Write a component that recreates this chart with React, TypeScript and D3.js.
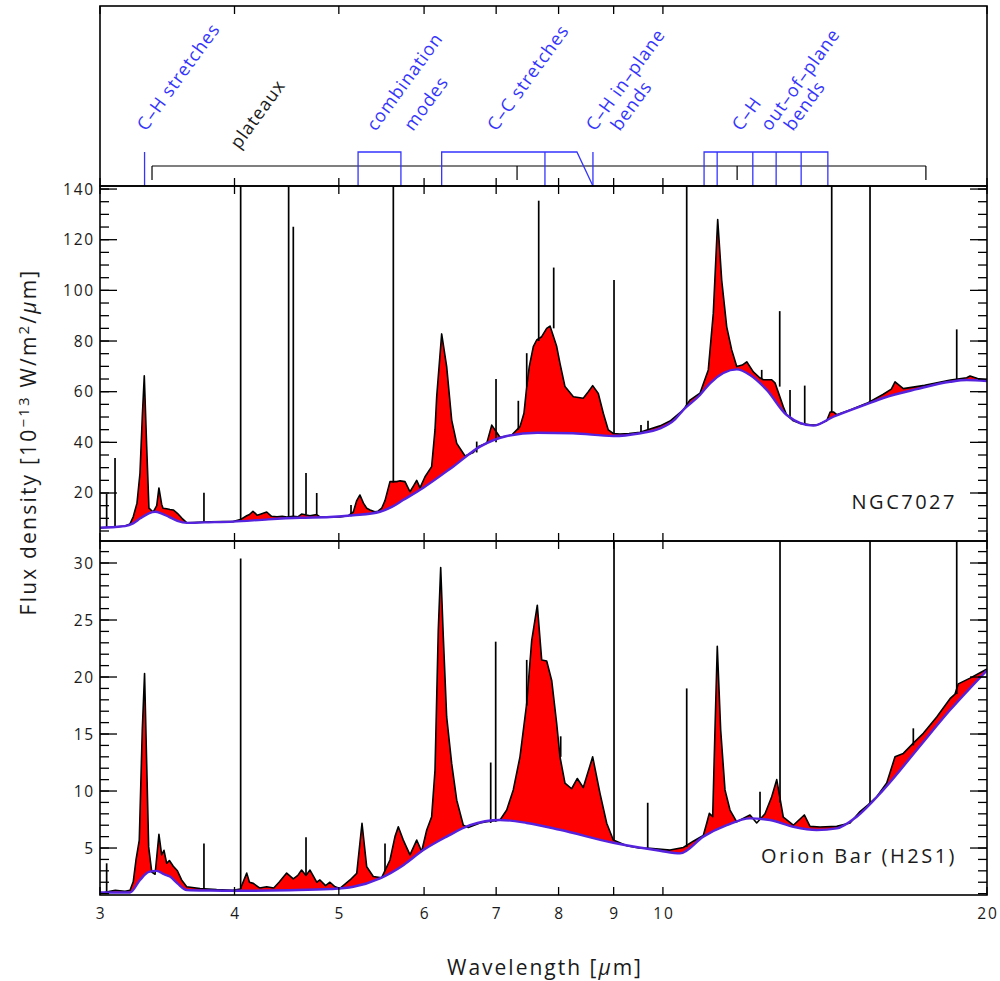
import * as d3 from "d3";

type Pt = [number, number];
type Spike = [number, number, number]; // wavelength, base, peak

// NGC7027 spectrum (wavelength in um, flux in 1e-13 W/m2/um)
const ngcSpectrum: Pt[] = [
  [3.0, 6.3], [3.04, 6.4], [3.1, 6.6], [3.13, 6.8], [3.165, 7.0], [3.199, 7.8], [3.221, 10.6],
  [3.247, 16.0], [3.268, 27.9], [3.284, 50.0], [3.298, 66.3], [3.315, 38.3], [3.331, 14.0],
  [3.362, 12.5], [3.387, 15.0], [3.403, 22.0], [3.423, 15.5], [3.433, 14.0], [3.46, 13.8],
  [3.484, 13.5], [3.509, 13.3], [3.54, 12.0], [3.575, 10.0], [3.613, 8.2], [3.7, 8.4], [3.8, 8.6],
  [3.9, 8.7], [3.987, 8.7], [4.05, 9.5], [4.106, 11.0], [4.13, 11.5], [4.161, 12.8], [4.2, 11.2],
  [4.24, 11.8], [4.285, 12.5], [4.33, 10.8], [4.38, 10.6], [4.43, 10.8], [4.472, 10.5],
  [4.536, 10.8], [4.58, 10.6], [4.617, 11.7], [4.7, 11.0], [4.769, 11.5], [4.802, 10.6],
  [4.9, 10.5], [5.012, 10.5], [5.1, 11.0], [5.157, 12.5], [5.195, 17.0], [5.231, 19.2],
  [5.27, 16.0], [5.307, 14.0], [5.345, 13.3], [5.4, 12.6], [5.437, 12.8], [5.48, 14.0],
  [5.519, 17.0], [5.578, 24.5], [5.659, 24.5], [5.7, 24.8], [5.76, 24.5], [5.822, 20.5],
  [5.87, 23.0], [5.906, 25.0], [5.948, 22.0], [6.012, 26.4], [6.098, 30.4], [6.142, 45.0],
  [6.164, 58.0], [6.23, 82.8], [6.297, 69.9], [6.365, 48.8], [6.434, 39.6], [6.549, 34.6],
  [6.666, 36.0], [6.75, 38.5], [6.86, 39.6], [6.934, 46.8], [7.058, 42.0], [7.164, 42.5],
  [7.237, 42.9], [7.366, 46.2], [7.429, 51.5], [7.473, 62.0], [7.514, 69.9], [7.579, 77.8],
  [7.634, 80.4], [7.716, 81.7], [7.799, 85.0], [7.855, 85.9], [7.968, 77.8], [8.024, 71.2],
  [8.11, 62.0], [8.257, 58.0], [8.434, 57.4], [8.525, 60.0], [8.605, 62.4], [8.709, 59.3],
  [8.803, 51.5], [8.897, 44.9], [8.993, 43.5], [9.123, 43.3], [9.3, 43.5], [9.522, 44.0],
  [9.728, 45.3], [9.938, 46.5], [10.153, 48.4], [10.446, 52.8], [10.596, 56.7], [10.825, 59.4],
  [11.019, 68.6], [11.138, 91.0], [11.243, 128.0], [11.34, 104.0], [11.462, 85.6], [11.585, 76.5],
  [11.71, 69.9], [11.85, 70.5], [11.963, 71.8], [12.133, 67.8], [12.3, 65.5], [12.395, 64.7],
  [12.62, 64.7], [12.709, 63.5], [12.937, 54.0], [13.031, 50.8], [13.217, 48.5], [13.4, 47.5],
  [13.697, 46.9], [13.895, 46.8], [14.195, 48.5], [14.3, 52.0], [14.4, 52.0], [14.502, 50.9],
  [14.921, 52.8], [15.463, 55.4], [16.022, 59.0], [16.3, 61.0], [16.428, 63.9], [16.723, 61.2],
  [17.5, 62.5], [17.831, 63.2], [18.5, 64.6], [19.151, 65.5], [19.287, 66.2], [19.6, 65.2],
  [20.0, 64.6],
];

const ngcContinuum: Pt[] = [
  [3.0, 6.3], [3.1, 6.6], [3.165, 6.9], [3.22, 8.0], [3.27, 10.0], [3.33, 12.0], [3.375, 12.6],
  [3.42, 12.0], [3.48, 10.5], [3.54, 9.0], [3.613, 8.2], [3.75, 8.4], [3.987, 8.7], [4.3, 9.6],
  [4.6, 10.2], [4.906, 10.5], [5.157, 11.2], [5.46, 12.6], [5.6, 14.5], [5.736, 17.2],
  [5.986, 22.0], [6.383, 30.4], [6.762, 38.3], [7.164, 42.5], [7.644, 43.8], [8.25, 43.6],
  [8.993, 42.5], [9.5, 43.5], [9.938, 45.5], [10.262, 49.1], [10.446, 52.8], [10.825, 58.7],
  [11.059, 63.3], [11.71, 68.8], [12.047, 66.6], [12.486, 60.7], [13.031, 50.8], [13.794, 46.6],
  [14.397, 50.1], [15.463, 55.1], [16.022, 57.5], [17.209, 61.0], [18.479, 63.9], [19.151, 64.6],
  [20.0, 64.2],
];

const ngcLines: Spike[] = [
  [3.043, 6.4, 19.6], [3.098, 6.6, 33.8], [3.747, 8.3, 20.1], [4.053, 8.8, 200],
  [4.491, 10.5, 200], [4.536, 10.8, 125.1], [4.661, 11.5, 27.9], [4.769, 11.5, 20.0],
  [5.132, 10.8, 15.3], [5.618, 24.0, 200], [6.715, 36.0, 40.3], [6.998, 40.0, 65.0],
  [7.34, 45.0, 56.4], [7.473, 62.0, 75.2], [7.667, 80.0, 135.4], [7.917, 85.0, 109.0],
  [9.007, 43.5, 104.1], [9.542, 44.0, 46.8], [9.686, 45.0, 48.5], [10.522, 54.0, 200],
  [12.353, 65.0, 68.6], [12.838, 62.0, 91.8], [13.124, 50.0, 60.7], [13.543, 47.0, 62.4],
  [14.348, 52.0, 200], [15.573, 55.5, 200], [18.746, 64.6, 84.6],
];

// Orion Bar (H2S1)
const orionSpectrum: Pt[] = [
  [3.0, 1.08], [3.03, 1.1], [3.065, 1.2], [3.1, 1.3], [3.13, 1.25], [3.165, 1.2], [3.199, 1.3],
  [3.221, 2.04], [3.24, 3.95], [3.263, 5.7], [3.284, 15.35], [3.3, 20.3], [3.315, 12.4],
  [3.329, 5.1], [3.351, 2.9], [3.375, 2.7], [3.403, 6.2], [3.423, 4.4], [3.44, 4.8], [3.46, 3.66],
  [3.48, 3.9], [3.509, 3.4], [3.54, 3.0], [3.572, 2.2], [3.611, 1.6], [3.716, 1.45], [3.85, 1.35],
  [3.987, 1.3], [4.05, 1.4], [4.106, 2.8], [4.13, 2.0], [4.164, 1.9], [4.22, 1.5], [4.285, 1.6],
  [4.35, 1.5], [4.4, 2.0], [4.472, 2.8], [4.536, 2.3], [4.58, 2.6], [4.617, 3.07], [4.661, 2.6],
  [4.701, 3.07], [4.769, 2.0], [4.802, 2.2], [4.86, 1.7], [4.906, 2.0], [4.96, 1.6], [5.012, 1.46],
  [5.06, 1.8], [5.121, 2.2], [5.195, 2.78], [5.254, 7.17], [5.307, 3.36], [5.382, 2.5],
  [5.48, 2.4], [5.578, 3.95], [5.638, 6.0], [5.678, 6.87], [5.739, 5.7], [5.822, 4.4],
  [5.906, 5.7], [5.969, 4.7], [6.034, 6.58], [6.098, 7.75], [6.142, 11.84], [6.185, 24.1],
  [6.217, 29.6], [6.252, 23.5], [6.297, 16.5], [6.365, 12.4], [6.434, 9.2], [6.525, 7.0],
  [6.595, 6.8], [6.762, 7.2], [6.86, 7.3], [7.058, 7.46], [7.16, 8.33], [7.261, 10.1],
  [7.366, 13.0], [7.473, 17.7], [7.553, 23.2], [7.644, 26.3], [7.716, 21.5], [7.799, 21.4],
  [7.883, 19.7], [7.968, 15.9], [8.024, 13.0], [8.11, 10.7], [8.227, 10.2], [8.327, 11.1],
  [8.434, 10.3], [8.605, 13.0], [8.741, 9.8], [8.867, 7.17], [8.993, 5.7], [9.255, 5.2],
  [9.5, 5.0], [9.728, 4.97], [10.153, 4.82], [10.446, 5.05], [10.671, 5.6], [10.902, 6.1],
  [10.982, 7.17], [11.043, 8.04], [11.123, 7.75], [11.178, 15.35], [11.233, 22.7],
  [11.315, 15.35], [11.42, 10.1], [11.543, 8.33], [11.71, 7.3], [12.047, 7.9], [12.221, 7.2],
  [12.44, 8.0], [12.62, 9.5], [12.756, 11.0], [12.937, 7.7], [13.217, 7.0], [13.531, 7.9],
  [13.697, 6.9], [13.994, 6.85], [14.502, 6.9], [14.921, 7.2], [15.243, 8.2], [15.516, 8.8],
  [15.798, 9.5], [16.139, 10.7], [16.428, 13.0], [16.723, 13.3], [17.084, 14.2], [17.454, 15.06],
  [17.961, 16.5], [18.479, 18.1], [18.678, 18.5], [18.81, 19.4], [19.287, 19.9], [20.0, 20.7],
];

const orionContinuum: Pt[] = [
  [3.0, 1.1], [3.199, 1.1], [3.268, 2.2], [3.33, 2.9], [3.387, 3.0], [3.44, 2.7], [3.484, 2.5],
  [3.54, 1.9], [3.611, 1.32], [3.8, 1.27], [3.987, 1.25], [4.5, 1.3], [4.906, 1.4], [5.157, 1.6],
  [5.46, 2.34], [5.739, 3.5], [5.99, 4.82], [6.297, 6.0], [6.619, 7.0], [7.058, 7.46],
  [7.473, 7.2], [8.024, 6.6], [8.993, 5.46], [9.938, 4.76], [10.372, 4.53], [10.902, 6.0],
  [11.462, 7.0], [12.047, 7.6], [12.574, 7.46], [13.217, 6.87], [13.895, 6.58], [14.502, 6.72],
  [15.136, 7.75], [16.022, 10.1], [17.209, 13.6], [18.479, 17.1], [20.0, 20.6],
];

const orionLines: Spike[] = [
  [3.043, 1.1, 3.66], [3.747, 1.45, 5.4], [4.053, 1.4, 30.4], [4.661, 2.6, 5.94],
  [5.519, 3.0, 5.4], [6.919, 7.2, 12.5], [6.993, 7.3, 23.1], [7.473, 17.5, 21.5],
  [8.036, 13.0, 14.8], [9.007, 5.7, 40], [9.68, 5.0, 8.97], [10.522, 5.1, 19.0],
  [12.308, 7.5, 9.94], [12.846, 9.0, 40], [15.573, 8.9, 40], [17.084, 14.0, 15.5],
  [18.746, 18.5, 40],
];

// band annotations in the top panel
const bandLabels: { text: string; at: number; blue: boolean; drop: number }[] = [
  { text: "C–H stretches", at: 3.31, blue: true, drop: 0 },
  { text: "plateaux", at: 4.04, blue: false, drop: 18 },
  { text: "combination", at: 5.41, blue: true, drop: 0 },
  { text: "modes", at: 5.86, blue: true, drop: 0 },
  { text: "C–C stretches", at: 7.0, blue: true, drop: 0 },
  { text: "C–H in–plane", at: 8.65, blue: true, drop: 0 },
  { text: "bends", at: 9.12, blue: true, drop: 0 },
  { text: "C–H", at: 11.82, blue: true, drop: 0 },
  { text: "out–of–plane", at: 12.57, blue: true, drop: 0 },
  { text: "bends", at: 13.21, blue: true, drop: 0 },
];
// blue band brackets: polylines of [wavelength, up(1)/down(0)]
const bandBrackets: Pt[][] = [
  [[3.3, 0], [3.3, 1]],
  [[5.21, 0], [5.21, 1], [5.71, 1], [5.71, 0]],
  [[6.23, 0], [6.23, 1], [8.32, 1], [8.61, 0]],
  [[7.77, 0], [7.77, 1]],
  [[8.61, 0], [8.61, 1]],
  [[10.92, 0], [10.92, 1], [14.23, 1], [14.23, 0]],
  [[11.23, 0], [11.23, 1]],
  [[12.12, 0], [12.12, 1]],
  [[12.74, 0], [12.74, 1]],
  [[13.44, 0], [13.44, 1]],
];
const plateauTicks = [3.353, 7.32, 11.72, 17.55];

const xTickValues = [3, 4, 5, 6, 7, 8, 9, 10, 20];
const ngcMajor = [20, 40, 60, 80, 100, 120, 140];
const orionMajor = [5, 10, 15, 20, 25, 30];

const BLUE = "#3434ff";
const CONT = "#5522dd";
const INK = "#1a1a1a";
const FONT = "'Open Sans', 'DejaVu Sans', sans-serif";

const L = 100, R = 987;
const TOP = 6, T1 = 186, T2 = 541, T3 = 895;

const x = d3.scaleLog().domain([3, 20]).range([L, R]);
const yNgc = d3.scaleLinear().domain([1.05, 141.2]).range([T2, T1]);
const yOrion = d3.scaleLinear().domain([0.88, 31.93]).range([T3, T2]);

function XTicks({ top, bottom }: { top: number; bottom: number }) {
  return (
    <g stroke="#000" strokeWidth={1.3}>
      {xTickValues.map((v) => (
        <g key={v}>
          <line x1={x(v)} x2={x(v)} y1={top} y2={top + 8} />
          <line x1={x(v)} x2={x(v)} y1={bottom} y2={bottom - 8} />
        </g>
      ))}
    </g>
  );
}

function Panel(props: {
  id: string;
  spec: Pt[];
  cont: Pt[];
  lines: Spike[];
  y: d3.ScaleLinear<number, number>;
  major: number[];
  minorStep: number;
  label: string;
}) {
  const { id, spec, cont, lines, y, major, minorStep, label } = props;
  const [bottom, top] = y.range();
  const [d0, d1] = y.domain();
  const specLine = d3.line<Pt>().x((d) => x(d[0])).y((d) => y(d[1]));
  const contLine = d3.line<Pt>().x((d) => x(d[0])).y((d) => y(d[1])).curve(d3.curveMonotoneX);
  const under = d3.area<Pt>().x((d) => x(d[0])).y0(bottom).y1((d) => y(d[1]));
  const above = d3
    .area<Pt>()
    .x((d) => x(d[0]))
    .y0(top - 5)
    .y1((d) => y(d[1]))
    .curve(d3.curveMonotoneX);
  const minor = d3.range(Math.ceil(d0 / minorStep) * minorStep, d1, minorStep);

  return (
    <g>
      <defs>
        <clipPath id={`${id}-frame`}>
          <rect x={L} y={top} width={R - L} height={bottom - top} />
        </clipPath>
        <clipPath id={`${id}-above`}>
          <path d={above(cont) || ""} />
        </clipPath>
      </defs>
      <g clipPath={`url(#${id}-frame)`}>
        <g clipPath={`url(#${id}-above)`}>
          <path d={under(spec) || ""} fill="#ff0000" />
        </g>
        <path d={specLine(spec) || ""} fill="none" stroke="#000" strokeWidth={1.6} strokeLinejoin="round" />
        {lines.map((s, i) => (
          <line key={i} x1={x(s[0])} x2={x(s[0])} y1={y(s[1])} y2={y(s[2])} stroke="#000" strokeWidth={1.7} />
        ))}
        <path d={contLine(cont) || ""} fill="none" stroke={CONT} strokeWidth={2.4} />
      </g>
      <g stroke="#000" strokeWidth={1.3}>
        {minor.map((v) => (
          <g key={`m${v}`}>
            <line x1={L} x2={L + 9} y1={y(v)} y2={y(v)} />
            <line x1={R} x2={R - 9} y1={y(v)} y2={y(v)} />
          </g>
        ))}
        {major.map((v) => (
          <g key={`M${v}`}>
            <line x1={L} x2={L + 17} y1={y(v)} y2={y(v)} />
            <line x1={R} x2={R - 17} y1={y(v)} y2={y(v)} />
          </g>
        ))}
      </g>
      <g fontFamily={FONT} fontSize={15.5} letterSpacing={1.8} fill={INK} textAnchor="end">
        {major.map((v) => (
          <text key={v} x={95} y={y(v) + 5.5}>
            {v}
          </text>
        ))}
      </g>
      <XTicks top={top} bottom={bottom} />
      <text x={957} y={bottom - 32} textAnchor="end" fontFamily={FONT} fontSize={20} letterSpacing={2.5} fill={INK}>
        {label}
      </text>
      <rect x={L} y={top} width={R - L} height={bottom - top} fill="none" stroke="#000" strokeWidth={1.6} />
    </g>
  );
}

function TopPanel() {
  const lvl = (u: number) => (u ? 152 : T1);
  const bracket = d3.line<Pt>().x((d) => x(d[0])).y((d) => lvl(d[1]));
  return (
    <g>
      <line x1={x(plateauTicks[0])} x2={x(plateauTicks[plateauTicks.length - 1])} y1={166} y2={166} stroke="#000" strokeWidth={1.2} />
      {plateauTicks.map((v) => (
        <line key={v} x1={x(v)} x2={x(v)} y1={166} y2={180} stroke="#000" strokeWidth={1.2} />
      ))}
      {bandBrackets.map((b, i) => (
        <path key={i} d={bracket(b) || ""} fill="none" stroke={BLUE} strokeWidth={1.3} />
      ))}
      <g fontFamily={FONT} fontSize={18} letterSpacing={0.9}>
        {bandLabels.map((b, i) => (
          <text
            key={i}
            transform={`translate(${x(b.at)},${132 + b.drop}) rotate(-54)`}
            fill={b.blue ? BLUE : INK}
          >
            {b.text}
          </text>
        ))}
      </g>
      <XTicks top={TOP} bottom={T1} />
      <rect x={L} y={TOP} width={R - L} height={T1 - TOP} fill="none" stroke="#000" strokeWidth={1.6} />
    </g>
  );
}

export default function App() {
  return (
    <div style={{ position: "absolute", left: 0, top: 0 }}>
      <svg width={1000} height={981} style={{ display: "block", background: "#fff" }}>
        <TopPanel />
        <Panel id="ngc" spec={ngcSpectrum} cont={ngcContinuum} lines={ngcLines} y={yNgc} major={ngcMajor} minorStep={5} label="NGC7027" />
        <Panel id="orion" spec={orionSpectrum} cont={orionContinuum} lines={orionLines} y={yOrion} major={orionMajor} minorStep={1} label="Orion Bar (H2S1)" />
        <g fontFamily={FONT} fontSize={15.5} letterSpacing={1.8} fill={INK} textAnchor="middle">
          {xTickValues.map((v) => (
            <text key={v} x={x(v) + 1} y={919}>
              {v}
            </text>
          ))}
        </g>
        <text x={545} y={975} textAnchor="middle" fontFamily={FONT} fontSize={21} letterSpacing={2} fill={INK}>
          Wavelength [<tspan fontStyle="italic">μ</tspan>m]
        </text>
        <text
          transform="translate(36,442) rotate(-90)"
          textAnchor="middle"
          fontFamily={FONT}
          fontSize={21}
          letterSpacing={2.2}
          fill={INK}
        >
          Flux density [10
          <tspan fontSize={15} dy={-7}>−13</tspan>
          <tspan dy={7}> W/m</tspan>
          <tspan fontSize={15} dy={-7}>2</tspan>
          <tspan dy={7}>/</tspan>
          <tspan fontStyle="italic">μ</tspan>m]
        </text>
      </svg>
    </div>
  );
}
